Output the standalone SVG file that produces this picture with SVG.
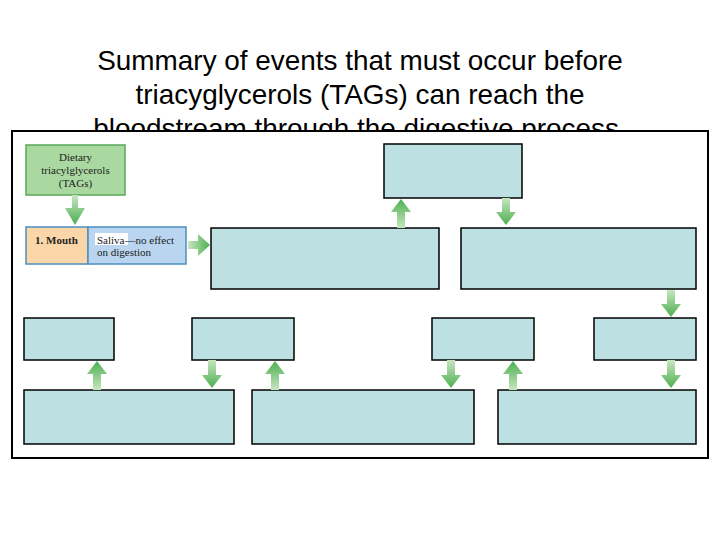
<svg xmlns="http://www.w3.org/2000/svg" width="720" height="540" viewBox="0 0 720 540">
<defs>
<linearGradient id="gv" x1="0" y1="0" x2="0" y2="1"><stop offset="0" stop-color="#c8e6c0"/><stop offset="1" stop-color="#4caf50"/></linearGradient>
<linearGradient id="gu" x1="0" y1="1" x2="0" y2="0"><stop offset="0" stop-color="#c8e6c0"/><stop offset="1" stop-color="#4caf50"/></linearGradient>
<linearGradient id="gh" x1="0" y1="0" x2="1" y2="0"><stop offset="0" stop-color="#c8e6c0"/><stop offset="1" stop-color="#4caf50"/></linearGradient>
</defs>
<style>
.t{font-family:"Liberation Sans",Arial,sans-serif;font-size:27.9px;fill:#000;text-anchor:middle}
.s{font-family:"Liberation Serif","Times New Roman",serif;font-size:11px;fill:#222}
.b{fill:#bde0e3;stroke:#000;stroke-width:1.5}
</style>
<text class="t" x="360" y="70">Summary of events that must occur before</text>
<text class="t" x="360" y="104">triacyglycerols (TAGs) can reach the</text>
<text class="t" x="360" y="138">bloodstream through the digestive process.</text>
<rect x="12" y="131" width="696" height="327" fill="#fff" stroke="#000" stroke-width="2"/>
<g id="dietary"><rect x="26" y="145" width="99" height="50" fill="#a9d8a0" stroke="#5aa85a" stroke-width="1.5"/>
<text class="s" x="75.5" y="161" text-anchor="middle">Dietary</text>
<text class="s" x="75.5" y="174" text-anchor="middle">triacylglycerols</text>
<text class="s" x="75.5" y="187" text-anchor="middle">(TAGs)</text></g>
<g id="mouth"><rect x="26" y="227" width="62" height="37" fill="#fbd6a8" stroke="#4a90c0" stroke-width="1.5"/>
<rect x="88" y="227" width="98" height="37" fill="#b9d5ef" stroke="#4a90c0" stroke-width="1.5"/>
<text class="s" x="35" y="244" font-weight="bold">1. Mouth</text>
<rect x="95" y="233" width="33" height="12" fill="#fff"/>
<text class="s" x="97" y="244">Saliva—no effect</text>
<text class="s" x="97" y="256">on digestion</text></g>
<g id="boxes">
<rect id="a" class="b" x="211" y="228" width="228" height="61"/>
<rect id="top" class="b" x="384" y="144" width="138" height="54"/>
<rect id="bb" class="b" x="461" y="228" width="235" height="61"/>
<rect id="r1" class="b" x="24" y="318" width="90" height="42"/>
<rect id="r2" class="b" x="192" y="318" width="102" height="42"/>
<rect id="r3" class="b" x="432" y="318" width="102" height="42"/>
<rect id="r4" class="b" x="594" y="318" width="102" height="42"/>
<rect id="l1" class="b" x="24" y="390" width="210" height="54"/>
<rect id="l2" class="b" x="252" y="390" width="222" height="54"/>
<rect id="l3" class="b" x="498" y="390" width="198" height="54"/>
</g>
<g id="connectors">
<path d="M72 195h6v13h7l-10 17-10-17h7z" fill="url(#gv)"/>
<path d="M188 241h10v-7l12 11-12 11v-7h-10z" fill="url(#gh)"/>
<path d="M397 228v-16h-6l10-13 10 13h-6v16z" fill="url(#gu)"/>
<path d="M502 198v14h-6l10 13 10-13h-6v-14z" fill="url(#gv)"/>
<path d="M667 290v14h-6l10 13 10-13h-6v-14z" fill="url(#gv)"/>
<path d="M93 390v-16h-6l10-13 10 13h-6v16z" fill="url(#gu)"/>
<path d="M208 360v15h-6l10 13 10-13h-6v-15z" fill="url(#gv)"/>
<path d="M271 390v-16h-6l10-13 10 13h-6v16z" fill="url(#gu)"/>
<path d="M447 360v15h-6l10 13 10-13h-6v-15z" fill="url(#gv)"/>
<path d="M509 390v-16h-6l10-13 10 13h-6v16z" fill="url(#gu)"/>
<path d="M667 360v15h-6l10 13 10-13h-6v-15z" fill="url(#gv)"/>
</g>
</svg>
